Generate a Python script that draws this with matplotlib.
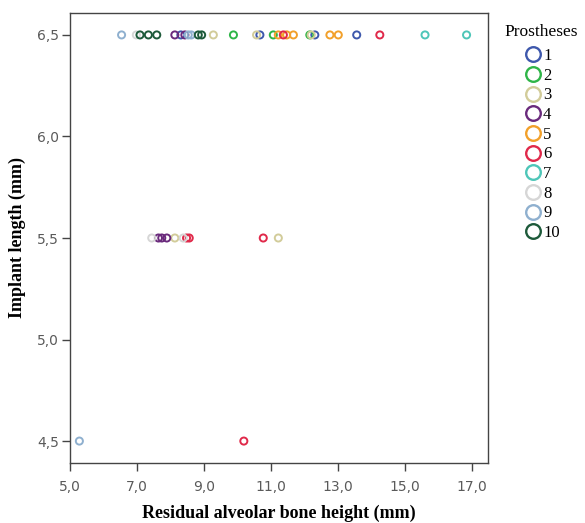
import matplotlib
matplotlib.use("Agg")
import matplotlib.pyplot as plt
from matplotlib.lines import Line2D

# ---- data ----
prostheses = ["1", "2", "3", "4", "5", "6", "7", "8", "9", "10"]
colors = ["#3e58ac", "#2fb548", "#d2cc9a", "#6a2a7c", "#f2a02a",
          "#e0294a", "#4ec6b8", "#d6d6d6", "#8fb0cf", "#1d5a3a"]

bone_height = {
    "1": [8.31, 10.67, 12.31, 13.56],
    "2": [9.88, 11.07, 12.16],
    "3": [9.28, 10.57, 12.20, 8.13, 11.22],
    "4": [8.13, 8.43, 7.64, 7.74, 7.89],
    "5": [11.22, 11.47, 11.67, 12.76, 13.01],
    "6": [11.37, 14.25, 8.48, 8.56, 10.77, 10.19],
    "7": [15.60, 16.84],
    "8": [6.98, 7.44, 8.38],
    "9": [6.54, 8.53, 8.62, 5.28],
    "10": [7.09, 7.34, 7.59, 8.83, 8.93],
}
implant_length = {
    "1": [6.5, 6.5, 6.5, 6.5],
    "2": [6.5, 6.5, 6.5],
    "3": [6.5, 6.5, 6.5, 5.5, 5.5],
    "4": [6.5, 6.5, 5.5, 5.5, 5.5],
    "5": [6.5, 6.5, 6.5, 6.5, 6.5],
    "6": [6.5, 6.5, 5.5, 5.5, 5.5, 4.5],
    "7": [6.5, 6.5],
    "8": [6.5, 5.5, 5.5],
    "9": [6.5, 6.5, 6.5, 4.5],
    "10": [6.5, 6.5, 6.5, 6.5, 6.5],
}

xticks = [5.0, 7.0, 9.0, 11.0, 13.0, 15.0, 17.0]
xticklabels = ["5,0", "7,0", "9,0", "11,0", "13,0", "15,0", "17,0"]
yticks = [4.5, 5.0, 5.5, 6.0, 6.5]
yticklabels = ["4,5", "5,0", "5,5", "6,0", "6,5"]

# ---- figure ----
fig = plt.figure(figsize=(5.85, 5.23), dpi=100)
ax = fig.add_axes([70 / 585, 60 / 523, 418 / 585, 450 / 523])

for p, c in zip(prostheses, colors):
    ax.scatter(bone_height[p], implant_length[p], s=26, facecolors="none",
               edgecolors=c, linewidths=1.4, zorder=3)

ax.set_xlim(5.0, 17.48)
ax.set_ylim(4.392, 6.608)
ax.set_xticks(xticks)
ax.set_xticklabels(xticklabels)
ax.set_yticks(yticks)
ax.set_yticklabels(yticklabels)

for s in ax.spines.values():
    s.set_color("#444444")
    s.set_linewidth(1.0)
ax.tick_params(direction="out", length=6, width=1.0, color="#444444",
               labelcolor="#5a5a5a", labelsize=10)
ax.tick_params(axis="x", pad=6)
ax.tick_params(axis="y", pad=2)
for lab in ax.get_xticklabels() + ax.get_yticklabels():
    lab.set_family("DejaVu Sans")

ax.set_xlabel("Residual alveolar bone height (mm)", family="Liberation Serif",
              fontweight="bold", fontsize=13, labelpad=8)
ax.set_ylabel("Implant length (mm)", family="Liberation Serif",
              fontweight="bold", fontsize=13, labelpad=8)

fig.text(541 / 585, 1 - 32 / 523, "Prostheses", ha="center", va="center",
         family="Liberation Serif", fontsize=12.5)

handles = [Line2D([], [], linestyle="none", marker="o", markersize=10.5,
                  markerfacecolor="none", markeredgecolor=c, markeredgewidth=1.7)
           for c in colors]
leg = fig.legend(handles, prostheses,
                 loc="upper left", bbox_to_anchor=(523 / 585, 1 - 48 / 523),
                 frameon=False, handletextpad=0.0, labelspacing=0.22,
                 handlelength=1.2, borderpad=0.0, borderaxespad=0.0,
                 prop={"family": "Liberation Serif", "size": 12})

fig.savefig("out.png", dpi=100)
